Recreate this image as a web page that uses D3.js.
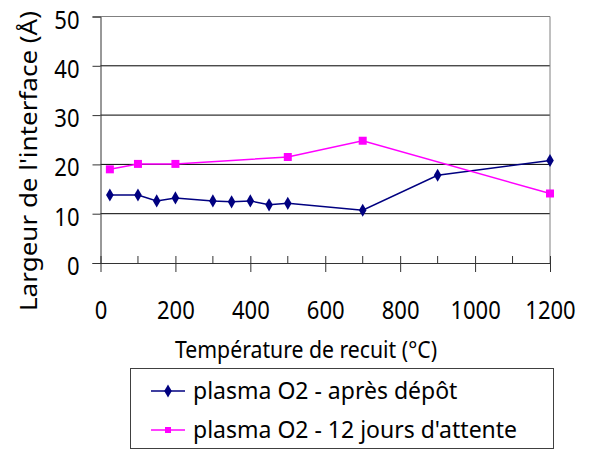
<!DOCTYPE html>
<html>
<head>
<meta charset="utf-8">
<script src="https://cdn.jsdelivr.net/npm/d3@7"></script>
<style>
  html, body { margin: 0; padding: 0; background: #fff; }
  svg { display: block; font-family: "Noto Sans", sans-serif; }
</style>
</head>
<body>
<svg id="chart" width="590" height="450"></svg>
<script>
// Annealing temperature (°C) and interface width (Å)
const tempsApres = [25, 100, 150, 200, 300, 350, 400, 450, 500, 700, 900, 1200];
const largeurApres = [13.8, 13.8, 12.6, 13.2, 12.6, 12.4, 12.6, 11.8, 12.1, 10.7, 17.8, 20.8];
const tempsAttente = [25, 100, 200, 500, 700, 1200];
const largeurAttente = [19.0, 20.1, 20.1, 21.5, 24.8, 14.1];
const xTicks = [0, 200, 400, 600, 800, 1000, 1200];
const xMinorTicks = [100, 300, 500, 700, 900, 1100];
const yTicks = [0, 10, 20, 30, 40, 50];
const seriesNames = ["plasma O2 - après dépôt", "plasma O2 - 12 jours d'attente"];
const seriesColors = ["#000080", "#FF00FF"];

const svg = d3.select("#chart");
const plot = { left: 100.5, right: 550, top: 16.5, bottom: 263 };
const fontSize = 23;
const tickFont = 24.5;
const digitWidth = 12.6; // narrow digits for tick labels

const x = d3.scaleLinear().domain([0, 1200]).range([plot.left, plot.right]);
const y = d3.scaleLinear().domain([0, 50]).range([plot.bottom, plot.top]);

// Horizontal gridlines
svg.append("g").selectAll("line").data(yTicks.filter(v => v > 0 && v < 50)).join("line")
  .attr("x1", plot.left).attr("x2", plot.right)
  .attr("y1", d => y(d)).attr("y2", d => y(d))
  .attr("stroke", "#000").attr("stroke-width", 1);

// Plot-area border (top and right)
svg.append("path")
  .attr("d", `M${plot.left},${y(50)}H${plot.right}V${plot.bottom}`)
  .attr("fill", "none").attr("stroke", "#808080").attr("stroke-width", 1);

function styleTickText(sel) {
  sel.attr("font-size", tickFont).attr("fill", "#000")
    .attr("font-family", "Noto Sans")
    .attr("textLength", function () { return this.textContent.length * digitWidth; })
    .attr("lengthAdjust", "spacingAndGlyphs");
}

// Y axis
const yAxis = d3.axisLeft(y).tickValues(yTicks).tickSize(8).tickPadding(13);
const gy = svg.append("g").attr("transform", `translate(${plot.left},0)`).call(yAxis);
gy.select(".domain").attr("stroke", "#333");
gy.selectAll(".tick line").attr("stroke", "#333");
gy.selectAll(".tick text").call(styleTickText).attr("dy", "0.47em");

// X axis: major ticks cross the axis, minor ticks sit inside the plot
const xAxis = d3.axisBottom(x).tickValues(xTicks).tickFormat(d3.format("d"))
  .tickSize(9).tickSizeOuter(0).tickPadding(30);
const gx = svg.append("g").attr("transform", `translate(0,${plot.bottom})`).call(xAxis);
gx.select(".domain").attr("stroke", "#333");
gx.selectAll(".tick line").attr("y1", -7).attr("stroke", "#333");
gx.selectAll(".tick text").call(styleTickText);
svg.append("g").selectAll("line").data(xMinorTicks).join("line")
  .attr("x1", d => x(d)).attr("x2", d => x(d))
  .attr("y1", plot.bottom - 7).attr("y2", plot.bottom)
  .attr("stroke", "#333");

// Axis titles
svg.append("text")
  .attr("x", 306).attr("y", 358)
  .attr("text-anchor", "middle").attr("font-size", fontSize)
  .attr("textLength", 262).attr("lengthAdjust", "spacingAndGlyphs")
  .text("Température de recuit (°C)");
svg.append("text")
  .attr("transform", "translate(37,161) rotate(-90)")
  .attr("text-anchor", "middle").attr("font-size", fontSize)
  .attr("textLength", 300).attr("lengthAdjust", "spacingAndGlyphs")
  .text("Largeur de l'interface (Å)");

// Series lines
const line = d3.line().x(d => x(d[0])).y(d => y(d[1]));
const apres = d3.zip(tempsApres, largeurApres);
const attente = d3.zip(tempsAttente, largeurAttente);

svg.append("path").datum(apres).attr("d", line)
  .attr("fill", "none").attr("stroke", seriesColors[0]).attr("stroke-width", 1.5);
svg.append("path").datum(attente).attr("d", line)
  .attr("fill", "none").attr("stroke", seriesColors[1]).attr("stroke-width", 1.5);

// Markers
const diamond = d3.symbol().type(d3.symbolDiamond).size(50);
const square = d3.symbol().type(d3.symbolSquare).size(64);
svg.append("g").selectAll("path").data(apres).join("path")
  .attr("d", diamond)
  .attr("transform", d => `translate(${x(d[0])},${y(d[1])})`)
  .attr("fill", seriesColors[0]);
svg.append("g").selectAll("path").data(attente).join("path")
  .attr("d", square)
  .attr("transform", d => `translate(${x(d[0])},${y(d[1])})`)
  .attr("fill", seriesColors[1]);

// Legend
const legend = svg.append("g");
legend.append("rect")
  .attr("x", 130.5).attr("y", 368.5).attr("width", 423).attr("height", 80)
  .attr("fill", "#fff").attr("stroke", "#404040").attr("stroke-width", 1);
const rows = [
  { name: seriesNames[0], color: seriesColors[0], sym: diamond, cy: 391 },
  { name: seriesNames[1], color: seriesColors[1], sym: d3.symbol().type(d3.symbolSquare).size(36), cy: 430 }
];
rows.forEach(r => {
  legend.append("line").attr("x1", 151).attr("x2", 185).attr("y1", r.cy).attr("y2", r.cy)
    .attr("stroke", r.color).attr("stroke-width", 1.5);
  legend.append("path").attr("d", r.sym).attr("transform", `translate(168,${r.cy})`)
    .attr("fill", r.color);
  legend.append("text").attr("x", 193).attr("y", r.cy).attr("dy", "0.35em")
    .attr("font-size", fontSize).text(r.name);
});
</script>
</body>
</html>
